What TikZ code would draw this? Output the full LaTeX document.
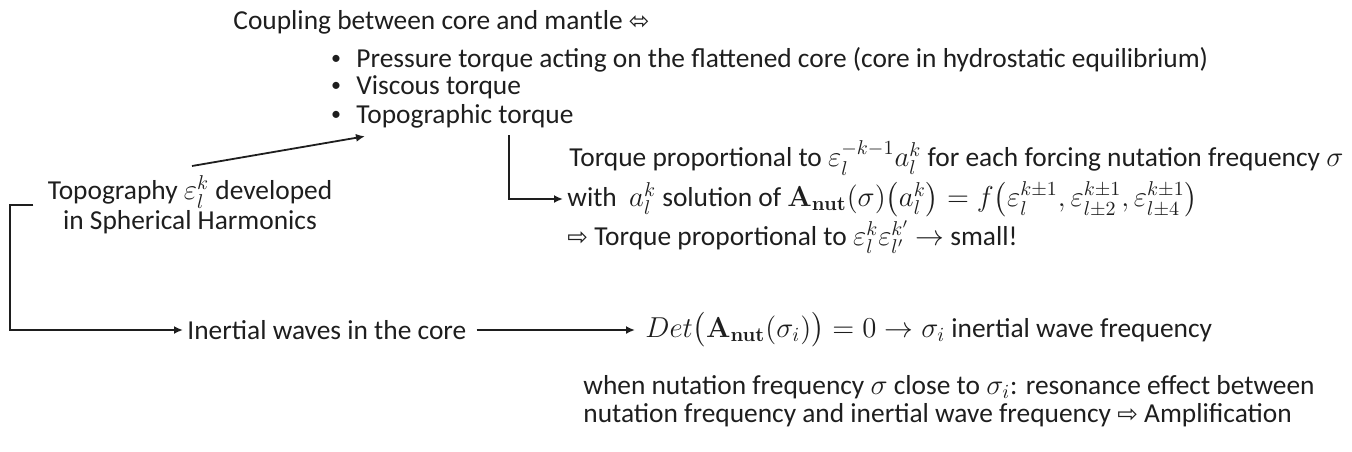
\documentclass[tikz,border=0pt]{standalone}
\usepackage{amsmath}
\usepackage[no-math]{fontspec}
\setmainfont{Carlito}
\newfontfamily\symfont[Scale=0.9]{DejaVu Sans}
\usepackage{tikz}
\usetikzlibrary{positioning, arrows.meta, calc}
\definecolor{ink}{HTML}{1E1E1E}

\begin{document}
\begin{tikzpicture}[
    x=0.5pt, y=-0.5pt,
    font=\fontsize{13.7}{14}\selectfont,
    txt/.style={text=ink, inner sep=2pt, anchor=west},
    pt/.style={text=ink, inner sep=0pt, font=\fontsize{10}{10}\selectfont},
    conn/.style={draw=ink, line width=0.9pt, -{Latex[length=4.5pt, width=4pt]}},
  ]
  \useasboundingbox (0,0) rectangle (1352,451);
  \node[txt] (coupling) at (229,22) {Coupling between core and mantle {\symfont ⬄}};
  \node[pt] (dot1) at (336,60) {\textbullet};
  \node[pt] (dot2) at (336,87) {\textbullet};
  \node[pt] (dot3) at (336,116) {\textbullet};
  \node[txt] (pressure) at (352,60) {Pressure torque acting on the flattened core (core in hydrostatic equilibrium)};
  \node[txt] (viscous) at (352,87) {Viscous torque};
  \node[txt] (topographic) at (352,116) {Topographic torque};
  \node[text=ink, align=center, inner sep=2pt, font=\fontsize{13.7}{15}\selectfont] (topography) at (190,205) {Topography $\varepsilon_l^k$ developed\\in Spherical Harmonics};
  \node[txt] (inertial) at (183,330) {Inertial waves in the core};
  \node[txt] (det) at (641,330) {$Det\bigl(\mathbf{A}_{\mathbf{nut}}(\sigma_i)\bigr) = 0 \rightarrow \sigma_i$ inertial wave frequency};
  \node[txt] (torque_prop) at (565,158) {Torque proportional to $\varepsilon_l^{-k-1}a_l^k$ for each forcing nutation frequency $\sigma$};
  \node[txt] (with_sol) at (563,199) {with\ \ $a_l^k$ solution of $\mathbf{A}_{\mathbf{nut}}(\sigma)\bigl(a_l^k\bigr) = f\bigl(\varepsilon_l^{k\pm1}, \varepsilon_{l\pm2}^{k\pm1}, \varepsilon_{l\pm4}^{k\pm1}\bigr)$};
  \node[txt] (small) at (563,237) {{\symfont ⇨} Torque proportional to $\varepsilon_l^k\varepsilon_{l'}^{k'}$ $\rightarrow$ small!};
  \node[txt, align=left, anchor=north west] (resonance) at (579,371) {when nutation frequency $\sigma$ close to $\sigma_i$: resonance effect between\\nutation frequency and inertial wave frequency {\symfont ⇨} Amplification};
  \coordinate (topo_up) at (192,166);
  \coordinate (bend_top) at (10,205);
  \coordinate (bend_bot) at (10,330);
  \coordinate (drop) at (509,135);
  \draw[conn] (topo_up) -- ([shift={(13,4)}]topographic.south west);
  \draw[conn] (drop) |- (with_sol.west);
  \draw[conn] ([xshift=-5pt]topography.west) -- (bend_top) -- (bend_bot) -- (inertial.west);
  \draw[conn] ([xshift=3pt]inertial.east) -- ([xshift=-3pt]det.west);
\end{tikzpicture}
\end{document}
